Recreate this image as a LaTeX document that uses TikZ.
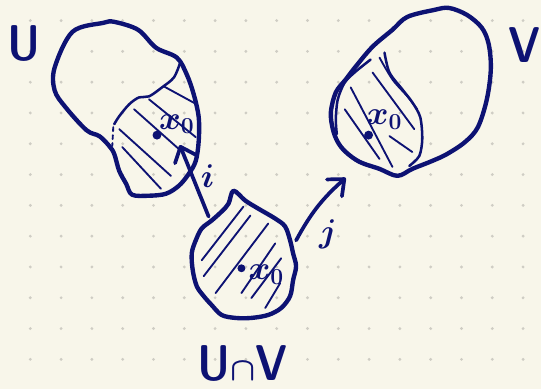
\documentclass[tikz,border=0pt]{standalone}
\usepackage{amsmath,amssymb}
\usepackage{xcolor}
\usepackage{tikz}
\usetikzlibrary{arrows.meta}
\definecolor{paper}{HTML}{F8F6EA}
\definecolor{ink}{HTML}{0D1273}
\definecolor{griddot}{HTML}{CFCDC4}
\newcommand{\HandFont}{\fontsize{38}{42}\selectfont\sffamily\fontseries{sbc}\selectfont}
\newcommand{\PtLab}[1]{{\fontsize{25}{29}\selectfont$\boldsymbol{#1}$}}

\begin{document}
\begin{tikzpicture}[x=0.75pt,y=-0.75pt,
    blob/.style={ink,line width=3.3pt,line join=round},
    hatch/.style={ink,line width=1.4pt,line cap=round},
    pen/.style={ink,line width=2.8pt,line cap=round,line join=round},
    barb/.style={-{Straight Barb[length=10pt,width=17pt,round]}}]
  \fill[paper] (0,0) rectangle (545,392);
  \foreach \i in {0,...,16}
    \foreach \j in {0,...,11}
      \fill[griddot] (30.5+31*\i,20.7+31*\j) circle (1.6);

  % U
  \draw[blob] plot[smooth cycle,tension=0.55] coordinates {(73,32) (104,23) (115,22) (139,30) (157,48) (178,58) (188,75) (195,95) (200,118) (200,142) (197,162) (190,175) (180,187) (167,195) (150,197) (133,196) (127,185) (120,172) (115,155) (110,147) (100,137) (87,131) (66,108) (55,91) (55,68)};
  \draw[hatch,line width=1.9pt] plot[smooth,tension=0.55] coordinates {(181,64) (175,78) (163,88) (150,97) (140,98) (130,105) (120,117) (115,125)};
  \draw[hatch,dashed] (114,128) -- (113,147);
  \foreach \a/\b in {{(165,87)}/{(198,105)},{(150,100)}/{(197,138)},{(135,110)}/{(180,150)},{(120,130)}/{(172,177)},{(123,148)}/{(162,190)}}
    \draw[hatch] \a -- \b;
  \fill[ink] (158,136) circle (4.5);
  \node[ink] (xU) at (178,125) {\PtLab{x_0}};
  \node[ink] (labU) at (24,44) {\HandFont U};

  % V
  \draw[blob] plot[smooth cycle,tension=0.55] coordinates {(410,17) (437,10) (452,8) (470,15) (485,28) (492,45) (494,70) (490,100) (481,128) (468,143) (450,155) (435,162) (415,170) (400,177) (382,170) (362,163) (348,153) (340,143) (335,130) (333,113) (338,93) (348,80) (358,67) (375,47) (395,30)};
  \draw[hatch,line width=1.9pt] plot[smooth] coordinates {(373,60) (358,72) (347,83) (340,100) (338,120) (339,135)};
  \draw[hatch,line width=1.9pt] plot[smooth] coordinates {(387,53) (392,73) (405,90) (415,103) (423,118) (425,140) (422,157) (412,167)};
  \draw[hatch] plot[smooth] coordinates {(382,58) (395,80) (410,97) (420,110)};
  \foreach \a/\b in {{(375,73)}/{(417,130)},{(353,88)}/{(395,168)},{(347,110)}/{(382,160)},{(392,137)}/{(415,153)}}
    \draw[hatch] \a -- \b;
  \fill[ink] (371,136) circle (4.5);
  \node[ink] (xV) at (387,120) {\PtLab{x_0}};
  \node[ink] (labV) at (528,45) {\HandFont V};

  % U cap V
  \draw[blob] plot[smooth cycle,tension=0.55] coordinates {(235,192) (247,202) (260,210) (277,220) (287,228) (292,242) (295,255) (298,268) (295,282) (292,298) (283,310) (270,317) (253,320) (237,320) (223,317) (213,307) (205,298) (198,288) (194,272) (193,255) (197,242) (203,230) (213,222) (223,213) (230,205)};
  \foreach \a/\b in {{(245,208)}/{(203,262)},{(252,217)}/{(205,278)},{(270,225)}/{(217,295)},{(277,245)}/{(243,295)},{(283,260)}/{(253,300)},{(282,285)}/{(267,310)}}
    \draw[hatch] \a -- \b;
  \fill[ink] (243,270) circle (4);
  \node[ink] (xW) at (268,276) {\PtLab{x_0}};
  \node[ink] (labW) at (244,366) {\HandFont U$\boldsymbol{\cap}$V};

  % maps
  \coordinate (iFrom) at (210,218);
  \coordinate (iTo) at (181,146);
  \coordinate (jFrom) at (298,242);
  \coordinate (jTo) at (348,179);
  \draw[pen,barb] (iFrom) -- (iTo);
  \draw[pen,barb] (jFrom) to[bend left=10] (jTo);
  \node[ink] (labI) at (209,177) {\PtLab{i}};
  \node[ink] (labJ) at (330,236) {\PtLab{j}};
\end{tikzpicture}
\end{document}
